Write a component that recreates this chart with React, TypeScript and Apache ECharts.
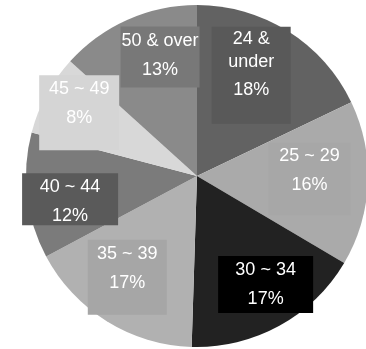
import React, { useEffect, useRef } from "react";
import * as echarts from "echarts";

const categories = ["24 & under", "25 ~ 29", "30 ~ 34", "35 ~ 39", "40 ~ 44", "45 ~ 49", "50 & over"];
const labelNames = ["24 &\nunder", "25 ~ 29", "30 ~ 34", "35 ~ 39", "40 ~ 44", "45 ~ 49", "50 & over"];
const values = [179, 156, 170, 167, 119, 76, 133];

const sliceColors = ["#626262", "#aaaaaa", "#222222", "#b1b1b1", "#7b7b7b", "#d8d8d8", "#8a8a8a"];
const labelColors = ["#595959", "#a7a7a7", "#000000", "#a6a6a6", "#5a5a5a", "#d5d5d5", "#787878"];
const labelSizes = [[79, 97], [82, 73], [95, 57], [79, 75], [96, 52], [80, 75], [79, 61]];
const labelOffsets = [[7, -26], [24, -1], [26, 31], [-23, 26], [-39, 13], [-40, -21], [-1, -38]];

export default function App() {
  const ref = useRef<HTMLDivElement>(null);
  useEffect(() => {
    if (!ref.current) return;
    const chart = echarts.init(ref.current, null, { renderer: "svg" });
    const total = values.reduce((a, b) => a + b, 0);
    const data = categories.map((name, i) => ({
      name,
      value: values[i],
      itemStyle: { color: sliceColors[i] },
      label: {
        backgroundColor: labelColors[i],
        width: labelSizes[i][0],
        height: labelSizes[i][1],
        offset: labelOffsets[i],
        ...(i === 0 ? { rich: { n: { lineHeight: 23 } } } : {}),
      },
    }));
    chart.setOption({
      animation: false,
      series: [
        {
          type: "pie",
          center: [197, 176],
          radius: 171,
          startAngle: 90,
          clockwise: true,
          silent: true,
          label: {
            show: true,
            position: "inside",
            padding: 0,
            color: "#ffffff",
            fontFamily: "Arial, 'Liberation Sans', sans-serif",
            fontSize: 18,
            align: "center",
            verticalAlign: "middle",
            formatter: (p: any) =>
              `{n|${labelNames[p.dataIndex]}}\n{p|${Math.round((p.value / total) * 100)}%}`,
            rich: {
              n: { color: "#ffffff", fontSize: 18, lineHeight: 26, fontFamily: "Arial, 'Liberation Sans', sans-serif", align: "center" },
              p: { color: "#ffffff", fontSize: 18, lineHeight: 32, fontFamily: "Arial, 'Liberation Sans', sans-serif", align: "center" },
            },
          },
          labelLine: { show: false },
          data,
        },
      ],
    });
    return () => chart.dispose();
  }, []);
  return <div ref={ref} style={{ position: "fixed", left: 0, top: 0, width: 366, height: 349 }} />;
}
